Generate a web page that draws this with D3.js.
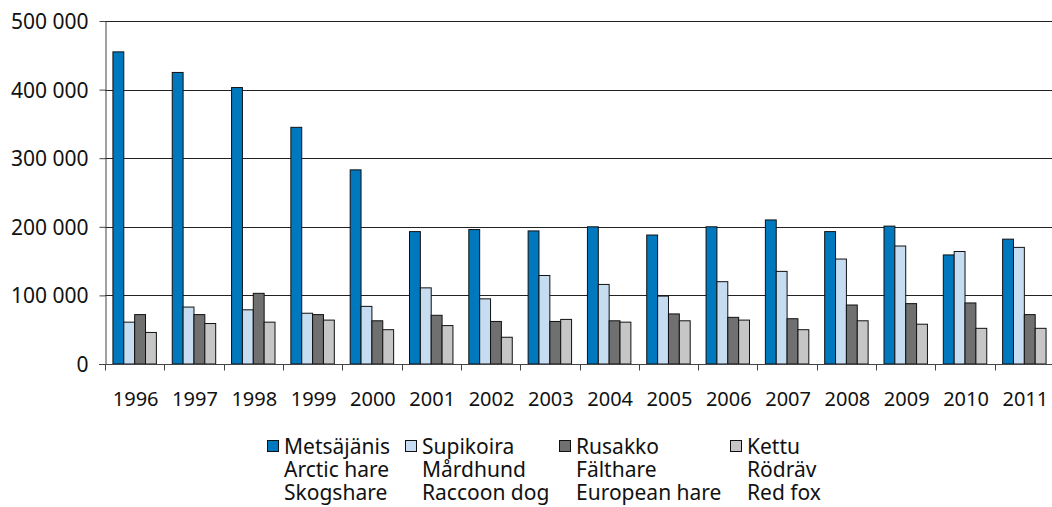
<!DOCTYPE html>
<html>
<head>
<meta charset="utf-8">
<script src="https://cdn.jsdelivr.net/npm/d3@7"></script>
<style>
  body { margin: 0; background: #fff; overflow: hidden; }
  svg text { font-family: "Noto Sans", sans-serif; fill: #111; }
</style>
</head>
<body>
<div id="chart"></div>
<script>
// data
var years = ["1996", "1997", "1998", "1999", "2000", "2001", "2002", "2003",
             "2004", "2005", "2006", "2007", "2008", "2009", "2010", "2011"];
var metsajanis = [455000, 425000, 403000, 345000, 283000, 193000, 196000, 194000,
                  200000, 188000, 200000, 210000, 193000, 201000, 159000, 182000];
var supikoira = [61000, 83000, 79000, 74000, 84000, 111000, 95000, 129000,
                 116000, 99000, 120000, 135000, 153000, 172000, 164000, 170000];
var rusakko = [72000, 72000, 103000, 72000, 63000, 71000, 62000, 62000,
               63000, 73000, 68000, 66000, 86000, 88000, 89000, 72000];
var kettu = [46000, 59000, 61000, 64000, 50000, 56000, 39000, 65000,
             61000, 63000, 64000, 50000, 63000, 58000, 52000, 52000];
var yTicks = [0, 100000, 200000, 300000, 400000, 500000];
var seriesNames = [
  ["Metsäjänis", "Arctic hare", "Skogshare"],
  ["Supikoira", "Mårdhund", "Raccoon dog"],
  ["Rusakko", "Fälthare", "European hare"],
  ["Kettu", "Rödräv", "Red fox"]
];
var colors = ["#0078be", "#c6dcf0", "#707070", "#c6c6c6"];
var series = [metsajanis, supikoira, rusakko, kettu];

var width = 1052, height = 507;
var margin = {left: 105, right: -2, top: 21, bottom: 143};

var svg = d3.select("#chart").append("svg")
    .attr("width", width)
    .attr("height", height);

//scales
var x = d3.scaleBand()
    .domain(years)
    .range([margin.left, width - margin.right])
    .padding(0);

var xInner = d3.scaleBand()
    .domain(d3.range(series.length))
    .range([0, x.bandwidth()])
    .paddingInner(0)
    .paddingOuter(0.73);

var y = d3.scaleLinear()
    .domain([0, 500000])
    .range([height - margin.bottom, margin.top]);

var fmt = function(d) { return d3.format(",")(d).replace(/,/g, " "); };

//gridlines
svg.append("g")
  .selectAll("line")
  .data(yTicks.slice(1))
  .enter().append("line")
    .attr("x1", margin.left)
    .attr("x2", width)
    .attr("y1", function(d) { return Math.round(y(d)) + 0.5; })
    .attr("y2", function(d) { return Math.round(y(d)) + 0.5; })
    .attr("stroke", "#222")
    .attr("stroke-width", 1);

//bars
var groups = svg.append("g")
  .selectAll("g")
  .data(years)
  .enter().append("g")
    .attr("transform", function(d) { return "translate(" + x(d) + ",0)"; });

groups.selectAll("rect")
  .data(function(d, i) { return series.map(function(s, k) { return {k: k, v: s[i]}; }); })
  .enter().append("rect")
    .attr("x", function(d) { return xInner(d.k); })
    .attr("width", xInner.bandwidth())
    .attr("y", function(d) { return y(d.v); })
    .attr("height", function(d) { return y(0) - y(d.v); })
    .attr("fill", function(d) { return colors[d.k]; })
    .attr("stroke", "#111")
    .attr("stroke-width", 1);

//y axis
var yAxis = svg.append("g")
    .attr("transform", "translate(" + (margin.left + 0.5) + ",0)")
    .call(d3.axisLeft(y).tickValues(yTicks).tickFormat(fmt).tickSize(6).tickSizeOuter(0));
yAxis.select(".domain").attr("stroke", "#444");
yAxis.selectAll(".tick line").attr("stroke", "#444");
yAxis.selectAll("text")
    .attr("x", -17)
    .attr("dy", "0.36em")
    .style("font-size", "21px")
    .style("font-family", "'Noto Sans', sans-serif")
    .attr("fill", "#111");

//x axis: ticks between categories
var xAxis = svg.append("g")
    .attr("transform", "translate(0," + (y(0) + 0.5) + ")");
xAxis.append("line")
    .attr("x1", margin.left - 6)
    .attr("x2", width)
    .attr("stroke", "#444");
xAxis.selectAll(".sep")
  .data(years)
  .enter().append("line")
    .attr("class", "sep")
    .attr("x1", function(d) { return Math.round(x(d)) + 0.5; })
    .attr("x2", function(d) { return Math.round(x(d)) + 0.5; })
    .attr("y1", 0)
    .attr("y2", 6)
    .attr("stroke", "#444");
xAxis.selectAll(".lbl")
  .data(years)
  .enter().append("text")
    .attr("class", "lbl")
    .attr("x", function(d) { return x(d) + x.bandwidth() / 2 + 1; })
    .attr("y", 41)
    .attr("text-anchor", "middle")
    .style("font-size", "20px")
    .text(function(d) { return d; });

//legend, one text per entry with three lines
var legendX = [267, 405, 559, 730];
var legend = svg.append("g")
  .selectAll("g")
  .data(seriesNames)
  .enter().append("g")
    .attr("transform", function(d, i) { return "translate(" + legendX[i] + ",440)"; });

legend.append("rect")
    .attr("x", 0.5)
    .attr("y", 0.5)
    .attr("width", 11)
    .attr("height", 11)
    .attr("fill", function(d, i) { return colors[i]; })
    .attr("stroke", "#111");

legend.append("text")
    .style("font-size", "21px")
  .selectAll("tspan")
  .data(function(d) { return d; })
  .enter().append("tspan")
    .attr("x", 17)
    .attr("y", function(d, j) { return 14 + j * 23; })
    .text(function(d) { return d; });
</script>
</body>
</html>
